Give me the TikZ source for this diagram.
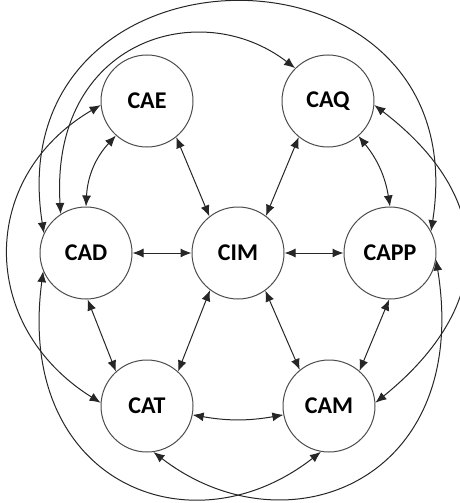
\documentclass[tikz,border=0pt]{standalone}
\usepackage{fontspec}
\setmainfont{Carlito}
\usetikzlibrary{arrows.meta}
\begin{document}
\begin{tikzpicture}[x=1pt,y=1pt,
  unit/.style={circle, draw=black!70, line width=1pt, minimum size=92pt, inner sep=0pt,
    font=\fontsize{24}{24}\selectfont\bfseries, text=black},
  link/.style={draw=black!85, line width=1pt,
    {Latex[length=11pt,width=9pt]}-{Latex[length=11pt,width=9pt]}}]
\useasboundingbox (0,0) rectangle (460,-503);
\node[unit] (CAE)  at (147,-101) {CAE};
\node[unit] (CAQ)  at (328,-101) {CAQ};
\node[unit] (CAD)  at (86,-253)  {CAD};
\node[unit] (CIM)  at (238,-253) {CIM};
\node[unit] (CAPP) at (390,-253) {CAPP};
\node[unit] (CAT)  at (147,-406) {CAT};
\node[unit] (CAM)  at (329,-406) {CAM};
% inner connectors
\draw[link] (CAE.-132) to[bend right=20] (CAD.90);
\draw[link] (CAE.-51) -- (CIM.128);
\draw[link] (CAQ.-129) -- (CIM.53);
\draw[link] (CAQ.-49) to[bend left=15] (CAPP.90);
\draw[link] (CAD) -- (CIM);
\draw[link] (CIM) -- (CAPP);
\draw[link] (CAD.-88) -- (CAT.132);
\draw[link] (CIM.-127) -- (CAT.48);
\draw[link] (CIM.-54) -- (CAM.129);
\draw[link] (CAPP.-91) -- (CAM.49);
\draw[link] (CAT.-11) to[bend right=10] (CAM.-169);
% outer connectors
\draw[link] (CAE.185) .. controls (-22,-177) and (-22,-326) .. (CAT.176);
\draw[link] (CAQ.-5) .. controls (496,-198) and (496,-305) .. (CAM.4);
\draw[link] (CAD.155) .. controls (-4,72) and (479,75) .. (CAPP.28);
\draw[link] (CAD.123) .. controls (50,-40) and (200,5) .. (CAQ.135);
\draw[link] (CAD.203) .. controls (15,-482) and (190,-554) .. (CAM.260);
\draw[link] (CAPP.-8) .. controls (472,-482) and (286,-554) .. (CAT.278);
\end{tikzpicture}
\end{document}
